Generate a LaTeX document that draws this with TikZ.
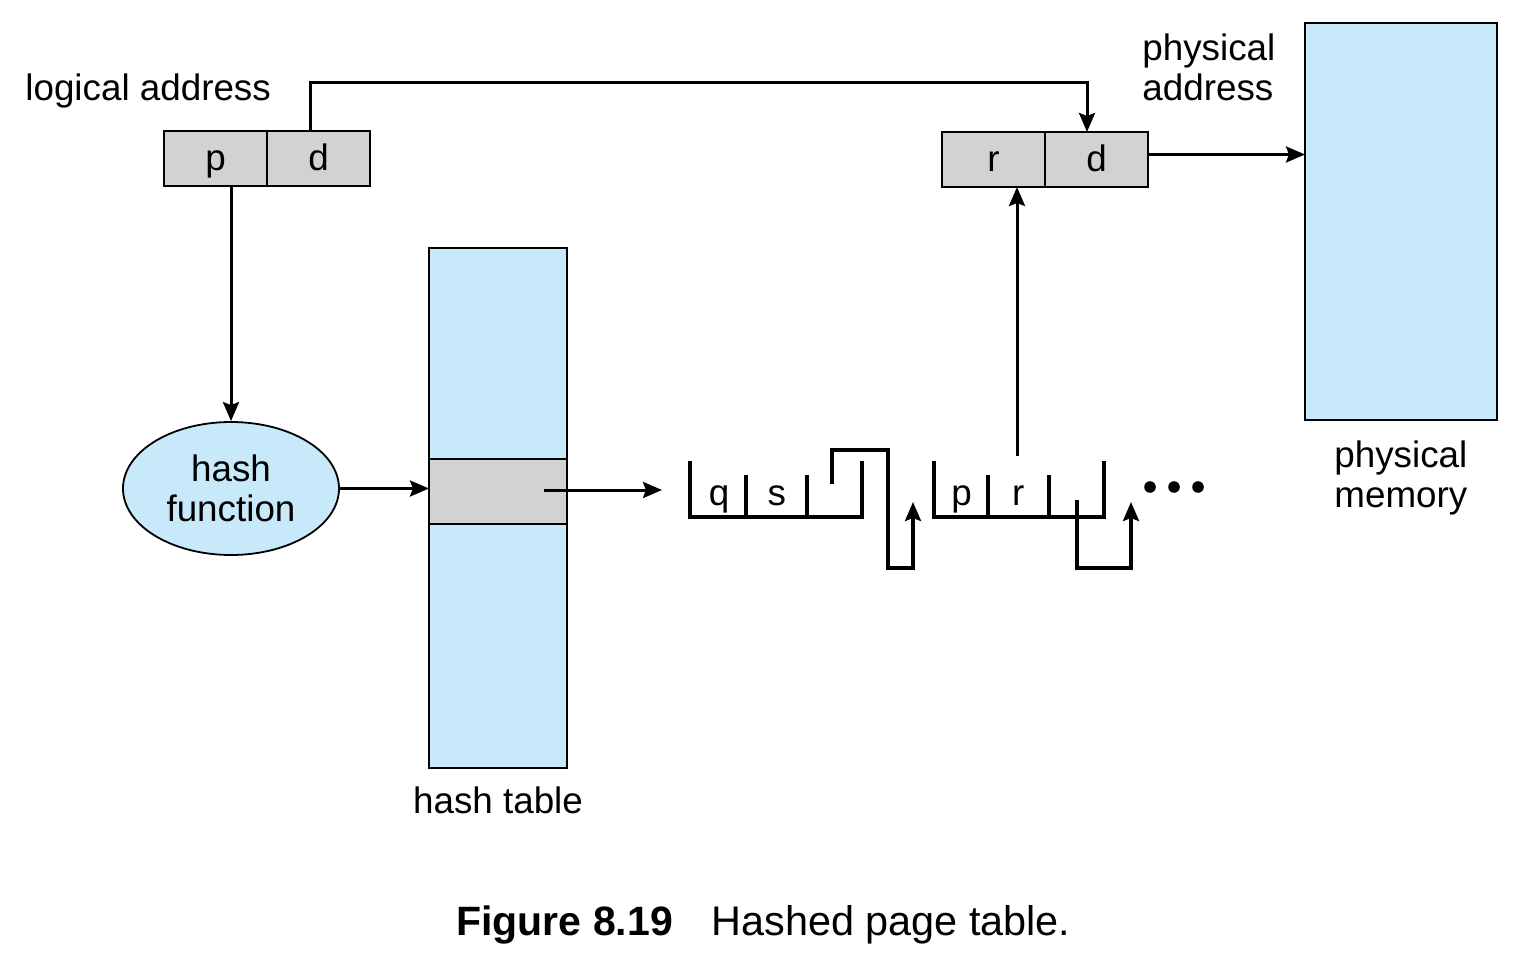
\documentclass[tikz,border=0pt]{standalone}
\usepackage{fontspec}
\setmainfont{Liberation Sans}
\usetikzlibrary{arrows.meta}
\usetikzlibrary{shapes.geometric,positioning}
\definecolor{tblblue}{RGB}{199,233,249}
\definecolor{cellgray}{RGB}{209,210,212}

\begin{document}
\begin{tikzpicture}[x=0.5pt,y=-0.5pt]
  \tikzset{txt/.style = {inner sep=0pt,font=\fontsize{18.4}{20}\selectfont}}
  \tikzset{cell/.style = {shape=rectangle,draw,fill=cellgray,line width=0.9pt,minimum width=51.5pt,minimum height=27.5pt,inner sep=0pt,outer sep=0pt,font=\fontsize{18.4}{20}\selectfont,text height=12.5pt,text depth=0pt}}
  \tikzset{bluebox/.style = {shape=rectangle,draw,fill=tblblue,line width=0.9pt,inner sep=0pt,outer sep=0pt}}
  \tikzset{bucket/.style = {line width=1.6pt}}
  \tikzset{edge/.style = {-ptr,line width=1.5pt}}
  \tikzset{%
  ptr/.tip={Stealth[length=9.5pt,width=8pt,inset=1.5pt]},
}

  \useasboundingbox (0,0) rectangle (1532,968);

	\node[cell] (lp) at (215.5,158.5) {p};
	\node[cell,right=0pt of lp] (ld) {d};
	\node[txt,anchor=base west] (laddr) at (25,101) {logical address};

	\node[cell] (pr) at (993.5,159.5) {r};
	\node[cell,right=0pt of pr] (pd) {d};
	\node[txt,anchor=north west,align=left] (paddr) at (1142,33) {physical\\address};

	\node[bluebox,minimum width=96pt,minimum height=198.5pt] (mem) at (1401,221.5) {};
	\node[txt,anchor=north west,align=left] (memlbl) at (1334,440) {physical\\memory};

	\node[ellipse,draw,fill=tblblue,line width=0.9pt,minimum width=108pt,minimum height=66.5pt,txt,align=center] (hash) at (231,488.5) {hash\\function};

	\node[bluebox,minimum width=69pt,minimum height=260pt] (table) at (498,508) {};
	\node[bluebox,fill=cellgray,minimum width=69pt,minimum height=32.5pt] (band) at (498,491.5) {};
	\node[txt,anchor=base] (tbllbl) at (498,813) {hash table};

    % chain entries
    \foreach \name/\x in {q/719,s/776.7,p/961.7,r/1018.3}
    \node[txt,anchor=base] (e\name) at (\x,505) {\name};

	\draw[bucket] (690,461) |- (862,517) -- (862,461);
	\draw[bucket] (934,461) |- (1104,517) -- (1104,461);
    \foreach \x in {746,807,988,1049}
    \draw[bucket] (\x,475) -- (\x,517);
	\draw[bucket,-ptr] (832,484) |- (888,450) |- (913,568) -- (913,502);
	\draw[bucket,-ptr] (1077,500) |- (1131,568) -- (1131,502);
    \foreach \x in {1150,1174,1198}
    \fill (\x,487) circle (2.9pt);

	\coordinate (head) at (662,490);
	\coordinate (rup) at (1017,456);

	\draw[edge] ([xshift=-4pt]ld.north) -- ++(0,-48) -| ([xshift=-4.75pt]pd.north);
	\draw[edge] (lp.south -| hash.north) -- (hash.north);
	\draw[edge] (hash.east) -- (hash.east -| table.west);
	\draw[edge] ([xshift=23pt]band.center |- head) -- (head);
	\draw[edge] ([yshift=2.5pt]pd.east) -- ([yshift=2.5pt]pd.east -| mem.west);
	\draw[edge] (rup) -- (rup |- pr.south);

	\node[txt,anchor=base west,font=\fontsize{20.5}{24}\selectfont\bfseries] (fignum) at (456,935) {Figure 8.19};
	\node[txt,anchor=base west,font=\fontsize{20.7}{24}\selectfont] (figcap) at (711,935) {Hashed page table.};

\end{tikzpicture}
\end{document}
